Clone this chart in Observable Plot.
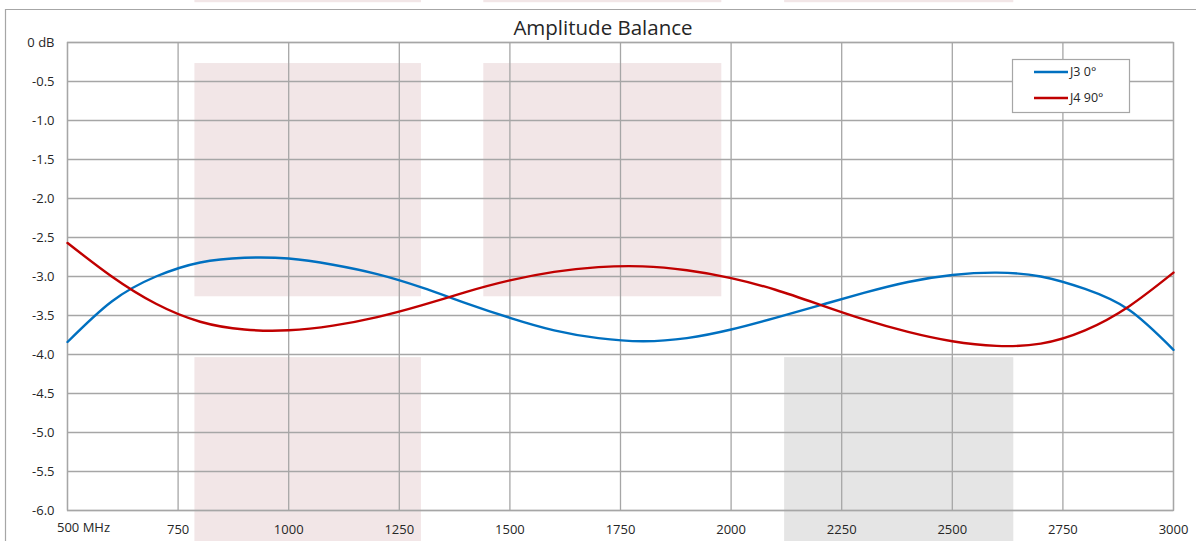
<!DOCTYPE html>
<html>
<head>
<meta charset="utf-8">
<script src="https://cdn.jsdelivr.net/npm/d3@7"></script>
<script src="https://cdn.jsdelivr.net/npm/@observablehq/plot@0.6"></script>
<style>
  html, body { margin: 0; padding: 0; background: #fff; }
  #chart { width: 1196px; height: 541px; overflow: hidden; }
</style>
</head>
<body>
<div id="chart"></div>
<script>
const title = "Amplitude Balance";

// Frequencies (MHz)
const freq = [500,600,700,800,900,1000,1100,1200,1300,1400,1500,1600,1700,1800,1900,2000,2100,2200,2300,2400,2500,2600,2700,2800,2900,3000];

// J3 0° (dB)
const j3 = [-3.84,-3.32,-3.00,-2.82,-2.76,-2.77,-2.85,-2.97,-3.14,-3.34,-3.53,-3.69,-3.79,-3.83,-3.79,-3.68,-3.53,-3.37,-3.21,-3.07,-2.98,-2.95,-3.00,-3.16,-3.43,-3.94];

// J4 90° (dB)
const j4 = [-2.57,-3.00,-3.35,-3.58,-3.68,-3.69,-3.63,-3.52,-3.37,-3.20,-3.05,-2.94,-2.88,-2.87,-2.92,-3.02,-3.17,-3.36,-3.55,-3.71,-3.83,-3.89,-3.86,-3.69,-3.38,-2.95];

const seriesNames = ["J3 0°", "J4 90°"];
const seriesColors = ["#0070c0", "#c00000"];

// Shaded bands (MHz / dB)
const bandX1 = [788, 1441, 788, 2121, 788, 1441, 2121];
const bandX2 = [1300, 1979, 1300, 2639, 1300, 1979, 2639];
const bandY1 = [-0.27, -0.27, -4.04, -4.04, 0.51, 0.51, 0.51];
const bandY2 = [-3.26, -3.26, -6.45, -6.45, 0.54, 0.54, 0.54];
const bandFill = ["#f2e6e7", "#f2e6e7", "#f2e6e7", "#e5e5e5", "#f2e6e7", "#f2e6e7", "#f2e6e7"];

const xTicks = [500, 750, 1000, 1250, 1500, 1750, 2000, 2250, 2500, 2750, 3000];
const yTicks = [0, -0.5, -1, -1.5, -2, -2.5, -3, -3.5, -4, -4.5, -5, -5.5, -6];

const rows = [];
seriesNames.forEach((s, si) => {
  const vals = si === 0 ? j3 : j4;
  freq.forEach((f, i) => rows.push({series: s, f, v: vals[i]}));
});
const bands = bandX1.map((x1, i) => ({x1, x2: bandX2[i], y1: bandY1[i], y2: bandY2[i], fill: bandFill[i]}));

const gridColor = "#a6a6a6";
const textColor = "#262626";
const font = "'Open Sans', sans-serif";

const plot = Plot.plot({
  width: 1196,
  height: 541,
  marginLeft: 67,
  marginRight: 23,
  marginTop: 42,
  marginBottom: 31,
  style: {fontFamily: font, fontSize: "13px", color: textColor, background: "#fff"},
  x: {domain: [500, 3000], label: null},
  y: {domain: [-6, 0], label: null},
  color: {domain: seriesNames, range: seriesColors},
  marks: [
    Plot.rect(bands, {x1: "x1", x2: "x2", y1: "y1", y2: "y2", fill: "fill"}),
    Plot.gridX({ticks: xTicks, stroke: gridColor, strokeOpacity: 1, strokeWidth: 1.3}),
    Plot.gridY({ticks: yTicks, stroke: gridColor, strokeOpacity: 1, strokeWidth: 1.3}),
    Plot.frame({stroke: gridColor, strokeWidth: 1.3}),
    Plot.line(rows, {x: "f", y: "v", z: "series", stroke: "series", strokeWidth: 2.4, curve: "natural"}),
    Plot.axisY({ticks: yTicks, tickSize: 0, tickPadding: 13, tickFormat: d => d === 0 ? "0 dB" : d.toFixed(1), fill: textColor}),
    Plot.axisX({ticks: xTicks.slice(1), tickSize: 0, tickPadding: 14, tickFormat: d => String(d), fill: textColor}),
    Plot.axisX({ticks: xTicks.slice(0, 1), tickSize: 0, tickPadding: 12, dx: 16, tickFormat: d => d + " MHz", fill: textColor})
  ]
});

const svg = d3.select(plot);

// outer chart border
svg.append("path")
  .attr("d", "M5.5,541 V9.5 H1196")
  .attr("fill", "none").attr("stroke", "#a6a6a6").attr("stroke-width", 1.2);

// title
svg.append("text")
  .attr("x", 603).attr("y", 35)
  .attr("text-anchor", "middle")
  .attr("font-family", font)
  .attr("font-size", 20.5)
  .attr("fill", textColor)
  .text(title);

// legend
const lg = svg.append("g");
lg.append("rect").attr("x", 1012.5).attr("y", 59.5).attr("width", 117).attr("height", 53)
  .attr("fill", "#fff").attr("stroke", gridColor).attr("stroke-width", 1.2);
seriesNames.forEach((s, i) => {
  const y = 72 + i * 26;
  lg.append("line").attr("x1", 1034).attr("x2", 1068).attr("y1", y).attr("y2", y)
    .attr("stroke", seriesColors[i]).attr("stroke-width", 2.4);
  lg.append("text").attr("x", 1070).attr("y", y).attr("dy", "0.35em")
    .attr("text-anchor", "start")
    .attr("font-family", font).attr("font-size", 12.5)
    .attr("fill", textColor).text(s);
});

document.getElementById("chart").appendChild(plot);
</script>
</body>
</html>
